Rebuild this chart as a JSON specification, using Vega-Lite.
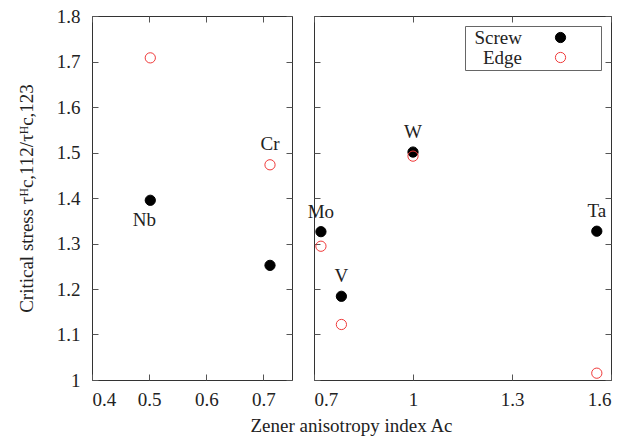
{
  "$schema": "https://vega.github.io/schema/vega-lite/v6.json",
  "background": "white",
  "padding": {"left": 16, "top": 6, "right": 5, "bottom": 5},
  "bounds": "flush",
  "config": {
    "font": "Liberation Serif",
    "view": {"stroke": "#333333", "strokeWidth": 1},
    "axis": {
      "grid": false, "domain": false, "tickSize": -6, "tickColor": "#555555",
      "labelFontSize": 19, "labelColor": "#222222", "labelFont": "Liberation Serif",
      "titleFontSize": 19, "titleFontWeight": "normal", "titleColor": "#222222", "titleFont": "Liberation Serif",
      "labelPadding": 16
    },
    "legend": {"labelFont": "Liberation Serif", "labelFontSize": 19, "labelColor": "#222222", "strokeColor": "#666666", "fillColor": "white"},
    "concat": {"spacing": 22}
  },
  "resolve": {"legend": {"color": "independent", "fill": "independent"}},
  "datasets": {
    "pts": [
      {"element": "Nb", "A": 0.502, "type": "Screw", "value": 1.395},
      {"element": "Nb", "A": 0.502, "type": "Edge", "value": 1.708},
      {"element": "Cr", "A": 0.7115, "type": "Screw", "value": 1.252},
      {"element": "Cr", "A": 0.7115, "type": "Edge", "value": 1.473},
      {"element": "Mo", "A": 0.721, "type": "Screw", "value": 1.326},
      {"element": "Mo", "A": 0.721, "type": "Edge", "value": 1.294},
      {"element": "V", "A": 0.783, "type": "Screw", "value": 1.184},
      {"element": "V", "A": 0.783, "type": "Edge", "value": 1.122},
      {"element": "W", "A": 1.0, "type": "Screw", "value": 1.501},
      {"element": "W", "A": 1.0, "type": "Edge", "value": 1.492},
      {"element": "Ta", "A": 1.557, "type": "Screw", "value": 1.327},
      {"element": "Ta", "A": 1.557, "type": "Edge", "value": 1.015}
    ]
  },
  "hconcat": [
    {
      "width": 200,
      "height": 364,
      "data": {"name": "pts"},
      "transform": [{"filter": {"field": "element", "oneOf": ["Nb", "Cr"]}}],
      "layer": [
        {
          "mark": {"type": "point", "shape": "circle", "filled": false, "size": 105, "strokeWidth": 1, "opacity": 1},
          "encoding": {
            "x": {"field": "A", "type": "quantitative", "scale": {"domain": [0.4, 0.75], "nice": false, "zero": false},
                  "axis": {"orient": "bottom", "values": [0.4, 0.5, 0.6, 0.7], "format": "~g", "title": null, "labelFont": "Liberation Serif"}},
            "y": {"field": "value", "type": "quantitative", "scale": {"domain": [1, 1.8], "nice": false, "zero": false},
                  "axis": {"orient": "left", "values": [1, 1.1, 1.2, 1.3, 1.4, 1.5, 1.6, 1.7, 1.8], "format": "~g", "labelPadding": 18, "labelFont": "Liberation Serif",
                           "title": "Critical stress τᴴc,112/τᴴc,123", "titlePadding": 20, "titleFont": "Liberation Serif"}},
            "color": {"field": "type", "type": "nominal", "scale": {"domain": ["Screw", "Edge"], "range": ["#000000", "#f03a3a"]}, "legend": null},
            "fill": {"field": "type", "type": "nominal", "scale": {"domain": ["Screw", "Edge"], "range": ["#000000", "transparent"]}, "legend": null}
          }
        },
        {
          "transform": [{"filter": "datum.element == 'Cr' && datum.type == 'Edge'"}],
          "mark": {"type": "text", "fontSize": 19, "dy": -21, "color": "#222222", "font": "Liberation Serif"},
          "encoding": {
            "x": {"field": "A", "type": "quantitative", "axis": {"orient": "top", "values": [0.4, 0.5, 0.6, 0.7], "labels": false, "title": null}},
            "y": {"field": "value", "type": "quantitative", "axis": {"orient": "right", "values": [1, 1.1, 1.2, 1.3, 1.4, 1.5, 1.6, 1.7, 1.8], "labels": false, "title": null}},
            "text": {"field": "element"}
          }
        },
        {
          "transform": [{"filter": "datum.element == 'Nb' && datum.type == 'Screw'"}],
          "mark": {"type": "text", "fontSize": 19, "dy": 20, "dx": -6, "color": "#222222", "font": "Liberation Serif"},
          "encoding": {
            "x": {"field": "A", "type": "quantitative", "axis": null},
            "y": {"field": "value", "type": "quantitative", "axis": null},
            "text": {"field": "element"}
          }
        }
      ],
      "resolve": {"axis": {"x": "independent", "y": "independent"}}
    },
    {
      "width": 297,
      "height": 364,
      "data": {"name": "pts"},
      "transform": [{"filter": {"field": "element", "oneOf": ["Mo", "V", "W", "Ta"]}}],
      "layer": [
        {
          "mark": {"type": "point", "shape": "circle", "filled": false, "size": 105, "strokeWidth": 1, "opacity": 1},
          "encoding": {
            "x": {"field": "A", "type": "quantitative", "scale": {"domain": [0.7, 1.6], "nice": false, "zero": false},
                  "axis": {"orient": "bottom", "values": [0.7, 1, 1.3, 1.6], "format": "~g", "labelFont": "Liberation Serif",
                           "title": "Zener anisotropy index Ac", "titleFont": "Liberation Serif", "titleX": 37, "titleY": 36, "titleAlign": "center", "titleBaseline": "top", "titleAnchor": null}},
            "y": {"field": "value", "type": "quantitative", "scale": {"domain": [1, 1.8], "nice": false, "zero": false},
                  "axis": {"orient": "left", "values": [1, 1.1, 1.2, 1.3, 1.4, 1.5, 1.6, 1.7, 1.8], "labels": false, "title": null}},
            "color": {"field": "type", "type": "nominal", "scale": {"domain": ["Screw", "Edge"], "range": ["#000000", "#f03a3a"]},
                      "legend": {"title": null, "orient": "top-right", "offset": 10, "padding": 2, "strokeColor": "#666666", "fillColor": "white",
                                 "labelAlign": "right", "labelOffset": -48, "symbolOffset": 84, "symbolSize": 105, "symbolStrokeWidth": 1, "rowPadding": 0,
                                 "symbolType": "M -1 0 A 1 1 0 1 1 1 0 A 1 1 0 1 1 -1 0 Z M 7 0"}},
            "fill": {"field": "type", "type": "nominal", "scale": {"domain": ["Screw", "Edge"], "range": ["#000000", "transparent"]},
                     "legend": {"title": null, "orient": "top-right", "offset": 10, "padding": 2, "strokeColor": "#666666", "fillColor": "white",
                                "labelAlign": "right", "labelOffset": -48, "symbolOffset": 84, "symbolSize": 105, "symbolStrokeWidth": 1, "rowPadding": 0,
                                "symbolType": "M -1 0 A 1 1 0 1 1 1 0 A 1 1 0 1 1 -1 0 Z M 7 0"}}
          }
        },
        {
          "transform": [{"filter": "datum.type == 'Screw'"}],
          "mark": {"type": "text", "fontSize": 19, "dy": -20, "color": "#222222", "font": "Liberation Serif"},
          "encoding": {
            "x": {"field": "A", "type": "quantitative", "axis": {"orient": "top", "values": [0.7, 1, 1.3, 1.6], "labels": false, "title": null}},
            "y": {"field": "value", "type": "quantitative", "axis": {"orient": "right", "values": [1, 1.1, 1.2, 1.3, 1.4, 1.5, 1.6, 1.7, 1.8], "labels": false, "title": null}},
            "text": {"field": "element"}
          }
        }
      ],
      "resolve": {"axis": {"x": "independent", "y": "independent"}}
    }
  ]
}
